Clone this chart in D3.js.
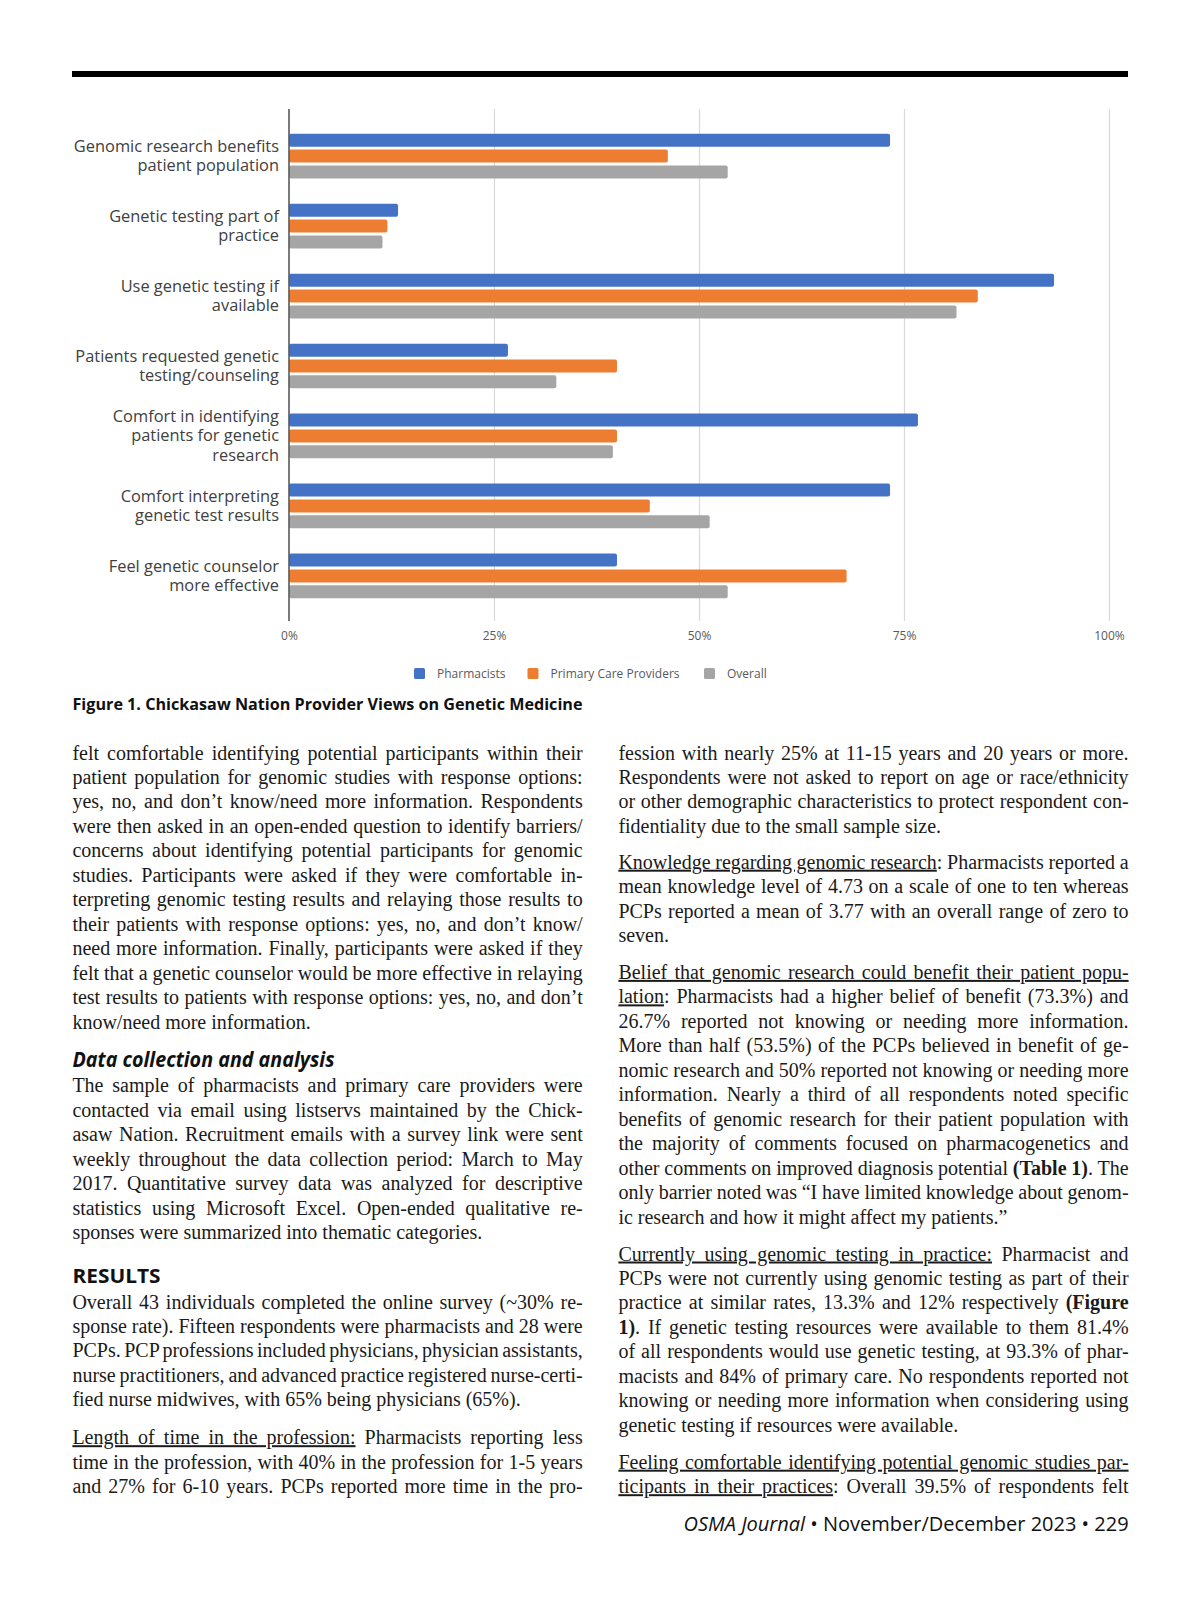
<!DOCTYPE html>
<html lang="en">
<head>
<meta charset="UTF-8">
<title>Figure 1</title>
<script src="https://d3js.org/d3.v7.min.js"></script>
<style>
  body { margin: 0; background: #fff; }
  .cat { font-family: "Open Sans", sans-serif; font-size: 16.4px; fill: #404040; }
  .tick text { font-family: "Open Sans", sans-serif; font-size: 12px; fill: #595959; }
  .legend text { font-family: "Open Sans", sans-serif; font-size: 12px; fill: #595959; }
  .body { font-family: "Liberation Serif", "Times New Roman", serif; font-size: 20px; fill: #1a1a1a; }
  .head { font-family: "Open Sans", sans-serif; font-weight: 700; fill: #111; }
</style>
</head>
<body>
<script>
// chart data
const categories = [
  "Genomic research benefits|patient population",
  "Genetic testing part of|practice",
  "Use genetic testing if|available",
  "Patients requested genetic|testing/counseling",
  "Comfort in identifying|patients for genetic|research",
  "Comfort interpreting|genetic test results",
  "Feel genetic counselor|more effective"
];
const series = ["Pharmacists", "Primary Care Providers", "Overall"];
const pharmacists = [73.3, 13.3, 93.3, 26.7, 76.7, 73.3, 40.0];
const primaryCare = [46.2, 12.0, 84.0, 40.0, 40.0, 44.0, 68.0];
const overall = [53.5, 11.4, 81.4, 32.6, 39.5, 51.3, 53.5];
const tickValues = [0, 25, 50, 75, 100];
const colors = ["#4472C4", "#ED7D31", "#A5A5A5"];

const caption = "Figure 1. Chickasaw Nation Provider Views on Genetic Medicine";

// page text, one entry per printed line; _x_ underline, *x* bold, last line of a paragraph ends with "$"
const leftColumn = [
  {y: 753, lines: [
    "felt comfortable identifying potential participants within their",
    "patient population for genomic studies with response options:",
    "yes, no, and don’t know/need more information. Respondents",
    "were then asked in an open-ended question to identify barriers/",
    "concerns about identifying potential participants for genomic",
    "studies. Participants were asked if they were comfortable in-",
    "terpreting genomic testing results and relaying those results to",
    "their patients with response options: yes, no, and don’t know/",
    "need more information. Finally, participants were asked if they",
    "felt that a genetic counselor would be more effective in relaying",
    "test results to patients with response options: yes, no, and don’t",
    "know/need more information.$"]},
  {y: 1085.7, lines: [
    "The sample of pharmacists and primary care providers were",
    "contacted via email using listservs maintained by the Chick-",
    "asaw Nation. Recruitment emails with a survey link were sent",
    "weekly throughout the data collection period: March to May",
    "2017. Quantitative survey data was analyzed for descriptive",
    "statistics using Microsoft Excel. Open-ended qualitative re-",
    "sponses were summarized into thematic categories.$"]},
  {y: 1302, lines: [
    "Overall 43 individuals completed the online survey (~30% re-",
    "sponse rate). Fifteen respondents were pharmacists and 28 were",
    "PCPs. PCP professions included physicians, physician assistants,",
    "nurse practitioners, and advanced practice registered nurse-certi-",
    "fied nurse midwives, with 65% being physicians (65%).$"]},
  {y: 1437.7, lines: [
    "_Length of time in the profession:_ Pharmacists reporting less",
    "time in the profession, with 40% in the profession for 1-5 years",
    "and 27% for 6-10 years. PCPs reported more time in the pro-"]}
];
const rightColumn = [
  {y: 753, lines: [
    "fession with nearly 25% at 11-15 years and 20 years or more.",
    "Respondents were not asked to report on age or race/ethnicity",
    "or other demographic characteristics to protect respondent con-",
    "fidentiality due to the small sample size.$"]},
  {y: 862.2, lines: [
    "_Knowledge regarding genomic research_: Pharmacists reported a",
    "mean knowledge level of 4.73 on a scale of one to ten whereas",
    "PCPs reported a mean of 3.77 with an overall range of zero to",
    "seven.$"]},
  {y: 972.4, lines: [
    "_Belief that genomic research could benefit their patient popu-_",
    "_lation_: Pharmacists had a higher belief of benefit (73.3%) and",
    "26.7% reported not knowing or needing more information.",
    "More than half (53.5%) of the PCPs believed in benefit of ge-",
    "nomic research and 50% reported not knowing or needing more",
    "information. Nearly a third of all respondents noted specific",
    "benefits of genomic research for their patient population with",
    "the majority of comments focused on pharmacogenetics and",
    "other comments on improved diagnosis potential *(Table 1)*. The",
    "only barrier noted was “I have limited knowledge about genom-",
    "ic research and how it might affect my patients.”$"]},
  {y: 1254, lines: [
    "_Currently using genomic testing in practice:_ Pharmacist and",
    "PCPs were not currently using genomic testing as part of their",
    "practice at similar rates, 13.3% and 12% respectively *(Figure*",
    "*1)*. If genetic testing resources were available to them 81.4%",
    "of all respondents would use genetic testing, at 93.3% of phar-",
    "macists and 84% of primary care. No respondents reported not",
    "knowing or needing more information when considering using",
    "genetic testing if resources were available.$"]},
  {y: 1462.2, lines: [
    "_Feeling comfortable identifying potential genomic studies par-_",
    "_ticipants in their practices_: Overall 39.5% of respondents felt"]}
];

const W = 1200, H = 1600;
const svg = d3.select("body").append("svg")
  .attr("width", W)
  .attr("height", H);

// top rule
svg.append("rect")
  .attr("x", 72).attr("y", 71).attr("width", 1056).attr("height", 6)
  .attr("fill", "#000");

// scales
const x = d3.scaleLinear().domain([0, 100]).range([289, 1109]);
const y0 = d3.scaleBand().domain(categories).range([111, 621])
  .paddingInner(0.361).paddingOuter(0.325);
const y1 = d3.scaleBand().domain(series).range([0, y0.bandwidth()]).paddingInner(0.18);

// gridlines
svg.append("g")
  .attr("transform", "translate(0,109)")
  .call(d3.axisBottom(x).tickValues(tickValues.slice(1)).tickSize(512).tickFormat(""))
  .call(g => g.select(".domain").remove())
  .call(g => g.selectAll(".tick line").attr("stroke", "#d9d9d9").attr("stroke-width", 1.2));

// tick labels
svg.append("g")
  .attr("transform", "translate(0,628)")
  .call(d3.axisBottom(x).tickValues(tickValues).tickSize(0).tickFormat(d => d + "%"))
  .call(g => g.select(".domain").remove());

// bars
const rows = categories.map((c, i) => ({
  cat: c,
  vals: [pharmacists[i], primaryCare[i], overall[i]]
}));
const grp = svg.append("g").selectAll("g")
  .data(rows)
  .join("g")
  .attr("transform", d => `translate(0,${y0(d.cat)})`);
grp.selectAll("rect")
  .data(d => d.vals.map((v, j) => ({s: series[j], v, j})))
  .join("rect")
  .attr("x", x(0))
  .attr("y", d => y1(d.s))
  .attr("width", d => x(d.v) - x(0))
  .attr("height", y1.bandwidth())
  .attr("rx", 2)
  .attr("fill", d => colors[d.j]);

// zero axis line
svg.append("line")
  .attr("x1", x(0)).attr("x2", x(0)).attr("y1", 109).attr("y2", 621)
  .attr("stroke", "#595959").attr("stroke-width", 1.6);

// category labels
const lh = 19.4;
svg.append("g").selectAll("text")
  .data(categories)
  .join("text")
  .attr("class", "cat")
  .attr("text-anchor", "end")
  .attr("x", 279)
  .attr("y", d => y0(d) + y0.bandwidth() / 2)
  .each(function(d) {
    const parts = d.split("|");
    const t = d3.select(this);
    parts.forEach((p, k) => {
      t.append("tspan")
        .attr("x", 279)
        .attr("dy", k === 0 ? ((-(parts.length - 1) / 2) * lh + 5.5) : lh)
        .text(p);
    });
  });

// legend
const legX = [414, 527.5, 704];
const leg = svg.append("g").attr("class", "legend").selectAll("g")
  .data(series)
  .join("g")
  .attr("transform", (d, i) => `translate(${legX[i]},668)`);
leg.append("rect").attr("width", 11).attr("height", 11).attr("rx", 1.5)
  .attr("fill", (d, i) => colors[i]);
leg.append("text").attr("x", 23).attr("y", 10).text(d => d);

// caption
svg.append("text")
  .attr("class", "head")
  .attr("x", 72.5).attr("y", 710)
  .attr("font-size", 16)
  .attr("textLength", 510).attr("lengthAdjust", "spacingAndGlyphs")
  .text(caption);

// headings
svg.append("text")
  .attr("class", "head")
  .attr("x", 72.5).attr("y", 1066.5)
  .attr("font-size", 20.5).attr("font-style", "italic")
  .attr("textLength", 262).attr("lengthAdjust", "spacingAndGlyphs")
  .text("Data collection and analysis");
svg.append("text")
  .attr("class", "head")
  .attr("x", 72.5).attr("y", 1283)
  .attr("font-size", 20)
  .attr("textLength", 88).attr("lengthAdjust", "spacingAndGlyphs")
  .text("RESULTS");

// body text
function parseLine(s) {
  const segs = [];
  const re = /(_[^_]*_|\*[^*]*\*)/g;
  let last = 0, m;
  while ((m = re.exec(s)) !== null) {
    if (m.index > last) segs.push({t: s.slice(last, m.index)});
    const inner = m[0].slice(1, -1);
    segs.push(m[0][0] === "_" ? {t: inner, u: true} : {t: inner, b: true});
    last = re.lastIndex;
  }
  if (last < s.length) segs.push({t: s.slice(last)});
  return segs;
}

function drawColumn(paras, x0, width) {
  const step = 24.49;
  paras.forEach(p => {
    p.lines.forEach((raw, k) => {
      const isLast = raw.endsWith("$");
      const s = isLast ? raw.slice(0, -1) : raw;
      const t = svg.append("text")
        .attr("class", "body")
        .attr("x", x0)
        .attr("y", p.y + k * step + 6.5)
        .attr("xml:space", "preserve");
      parseLine(s).forEach(seg => {
        const ts = t.append("tspan").text(seg.t);
        if (seg.u) ts.attr("text-decoration", "underline");
        if (seg.b) ts.attr("font-weight", "bold");
      });
      const natural = t.node().getComputedTextLength();
      const spaces = (s.match(/ /g) || []).length;
      if (!isLast && spaces > 0) {
        t.attr("word-spacing", (width - natural) / spaces);
      }
    });
  });
}
drawColumn(leftColumn, 72.4, 510.3);
drawColumn(rightColumn, 618.4, 510.2);

// footer
const foot = svg.append("text")
  .attr("x", 1128.6).attr("y", 1531)
  .attr("text-anchor", "end")
  .attr("font-family", "Open Sans, sans-serif")
  .attr("font-size", 20)
  .attr("fill", "#111")
  .attr("textLength", 445).attr("lengthAdjust", "spacingAndGlyphs");
foot.append("tspan").attr("font-style", "italic").text("OSMA Journal");
foot.append("tspan").text(" • November/December 2023 • 229");
</script>
</body>
</html>
